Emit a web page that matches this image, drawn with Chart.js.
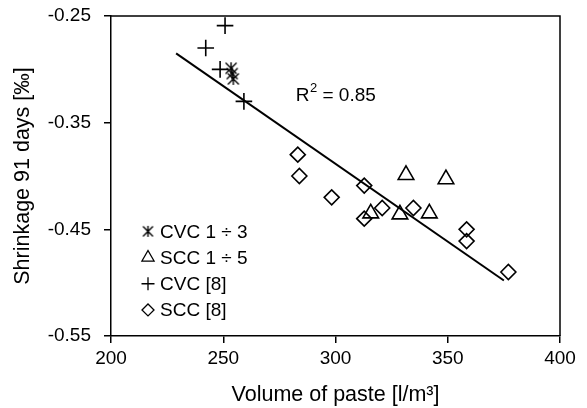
<!DOCTYPE html>
<html>
<head>
<meta charset="utf-8">
<script src="https://cdn.jsdelivr.net/npm/chart.js@4.4.0/dist/chart.umd.min.js"></script>
<style>
  html, body { margin: 0; padding: 0; background: #fff; }
  #wrap { width: 587px; height: 408px; }
</style>
</head>
<body>
<div id="wrap"><canvas id="shrinkChart" width="587" height="408"></canvas></div>
<script>
// === Values ===
const cvc13X = [253.5, 254, 254.5];
const cvc13Y = [-0.299, -0.304, -0.309];

const scc15X = [315.7, 328.7, 331.4, 341.8, 349.2];
const scc15Y = [-0.435, -0.436, -0.399, -0.435, -0.403];

const cvc8X = [250.8, 242.2, 248.6, 259.2];
const cvc8Y = [-0.259, -0.280, -0.300, -0.330];

const scc8X = [283.2, 283.9, 298.3, 312.8, 312.8, 320.8, 334.7, 358.4, 358.4, 377.0];
const scc8Y = [-0.380, -0.400, -0.420, -0.409, -0.440, -0.430, -0.430, -0.450, -0.461, -0.490];

// regression line end points
const fitX = [229, 375];
const fitY = [-0.285, -0.498];

const xTicks = [200, 250, 300, 350, 400];
const yTicks = [-0.55, -0.45, -0.35, -0.25];
const r2Text = "0.85";
const r2Pos = [282.3, -0.33];

const FONT = "'Liberation Sans', Arial, Helvetica, sans-serif";

// === Asterisk marker (X with a vertical stroke) ===
function makeAsterisk(size) {
  const c = document.createElement("canvas");
  c.width = size;
  c.height = size;
  const g = c.getContext("2d");
  g.strokeStyle = "#000";
  g.lineWidth = 1.4;
  const m = size / 2, a = size / 2 - 1.5;
  g.beginPath();
  g.moveTo(m - a, m - a); g.lineTo(m + a, m + a);
  g.moveTo(m + a, m - a); g.lineTo(m - a, m + a);
  g.moveTo(m, m - a - 0.5); g.lineTo(m, m + a + 0.5);
  g.stroke();
  return c;
}
const asterisk = makeAsterisk(14);
const asteriskSmall = makeAsterisk(13);

const toPoints = (xs, ys) => xs.map((x, i) => ({ x: x, y: ys[i] }));

// === Legend drawn inside the plot area ===
const insetLegend = {
  id: "insetLegend",
  afterDatasetsDraw(chart) {
    const ctx = chart.ctx;
    const yScale = chart.scales.y;
    const items = chart.data.datasets.filter((d) => d.label);
    const top = yScale.getPixelForValue(-0.45);
    ctx.save();
    ctx.font = "19px " + FONT;
    ctx.textBaseline = "middle";
    ctx.textAlign = "left";
    items.forEach((d, i) => {
      const x = chart.chartArea.left + 37;
      const y = top + 2 + i * 26.2;
      ctx.strokeStyle = "#000";
      ctx.fillStyle = "rgba(0,0,0,0)";
      ctx.lineWidth = 1.3;
      const style = d.pointStyle === asterisk ? asteriskSmall : d.pointStyle;
      Chart.helpers.drawPoint(ctx, { pointStyle: style, radius: d.legendRadius, rotation: 0, borderWidth: 1.3 }, x, y);
      ctx.fillStyle = "#000";
      ctx.fillText(d.label, x + 12, y + 1);
    });
    ctx.restore();
  },
  afterDraw(chart) {
    const ctx = chart.ctx;
    const a = chart.chartArea;
    // top and right frame lines
    ctx.save();
    ctx.strokeStyle = "#000";
    ctx.lineWidth = 1.5;
    ctx.beginPath();
    ctx.moveTo(a.left, a.top);
    ctx.lineTo(a.right, a.top);
    ctx.lineTo(a.right, a.bottom);
    ctx.stroke();

    // R² annotation
    const px = chart.scales.x.getPixelForValue(r2Pos[0]);
    const py = chart.scales.y.getPixelForValue(r2Pos[1]);
    ctx.fillStyle = "#000";
    ctx.textBaseline = "alphabetic";
    ctx.textAlign = "left";
    ctx.font = "19px " + FONT;
    ctx.fillText("R", px, py);
    const rw = ctx.measureText("R").width;
    ctx.font = "13px " + FONT;
    ctx.fillText("2", px + rw + 0.5, py - 9);
    const sw = ctx.measureText("2").width;
    ctx.font = "19px " + FONT;
    ctx.fillText(" = " + r2Text, px + rw + sw + 0.5, py);
    ctx.restore();
  },
};

const axisLine = { display: true, color: "#000", width: 1.5 };
const tickGrid = {
  display: true,
  drawOnChartArea: false,
  drawTicks: true,
  tickLength: 7,
  color: "#000",
  lineWidth: 1.5,
};

new Chart(document.getElementById("shrinkChart"), {
  type: "scatter",
  data: {
    datasets: [
      {
        data: toPoints(fitX, fitY),
        showLine: true,
        borderColor: "#000",
        borderWidth: 2,
        pointRadius: 0,
        fill: false,
      },
      {
        label: "CVC 1 ÷ 3",
        data: toPoints(cvc13X, cvc13Y),
        pointStyle: asterisk,
        legendRadius: 6,
        borderColor: "#000",
        backgroundColor: "rgba(0,0,0,0)",
      },
      {
        label: "SCC 1 ÷ 5",
        data: toPoints(scc15X, scc15Y),
        pointStyle: "triangle",
        pointRadius: 9,
        legendRadius: 7,
        pointBorderWidth: 1.6,
        borderColor: "#000",
        backgroundColor: "rgba(0,0,0,0)",
      },
      {
        label: "CVC [8]",
        data: toPoints(cvc8X, cvc8Y),
        pointStyle: "cross",
        pointRadius: 8.3,
        legendRadius: 6.5,
        pointBorderWidth: 1.6,
        borderColor: "#000",
        backgroundColor: "rgba(0,0,0,0)",
      },
      {
        label: "SCC [8]",
        data: toPoints(scc8X, scc8Y),
        pointStyle: "rectRot",
        pointRadius: 7.5,
        legendRadius: 6,
        pointBorderWidth: 1.6,
        borderColor: "#000",
        backgroundColor: "rgba(0,0,0,0)",
      },
    ],
  },
  options: {
    responsive: false,
    animation: false,
    layout: { padding: { top: 16, right: 27, left: 0, bottom: 0 } },
    scales: {
      x: {
        type: "linear",
        min: xTicks[0],
        max: xTicks[xTicks.length - 1],
        afterBuildTicks: (s) => { s.ticks = xTicks.map((v) => ({ value: v })); },
        afterFit: (s) => { s.height = 72; s.paddingLeft = 0; s.paddingRight = 0; },
        ticks: {
          color: "#000",
          font: { family: FONT, size: 19 },
          padding: 4,
          maxRotation: 0,
          callback: (v) => v,
        },
        grid: tickGrid,
        border: axisLine,
        title: {
          display: true,
          text: "Volume of paste [l/m³]",
          color: "#000",
          font: { family: FONT, size: 21.5 },
          padding: { top: 0, bottom: 0 },
        },
      },
      y: {
        type: "linear",
        min: yTicks[0],
        max: yTicks[yTicks.length - 1],
        afterBuildTicks: (s) => { s.ticks = yTicks.map((v) => ({ value: v })); },
        afterFit: (s) => { s.width = 111; s.paddingTop = 0; s.paddingBottom = 0; },
        ticks: {
          color: "#000",
          font: { family: FONT, size: 19 },
          padding: 13,
          callback: (v) => Number(v).toFixed(2),
        },
        grid: tickGrid,
        border: axisLine,
        title: {
          display: true,
          text: "Shrinkage 91 days [‰]",
          color: "#000",
          font: { family: FONT, size: 21.5 },
          padding: { top: 10, bottom: 0 },
        },
      },
    },
    plugins: {
      legend: { display: false },
      tooltip: { enabled: false },
    },
  },
  plugins: [insetLegend],
});
</script>
</body>
</html>
